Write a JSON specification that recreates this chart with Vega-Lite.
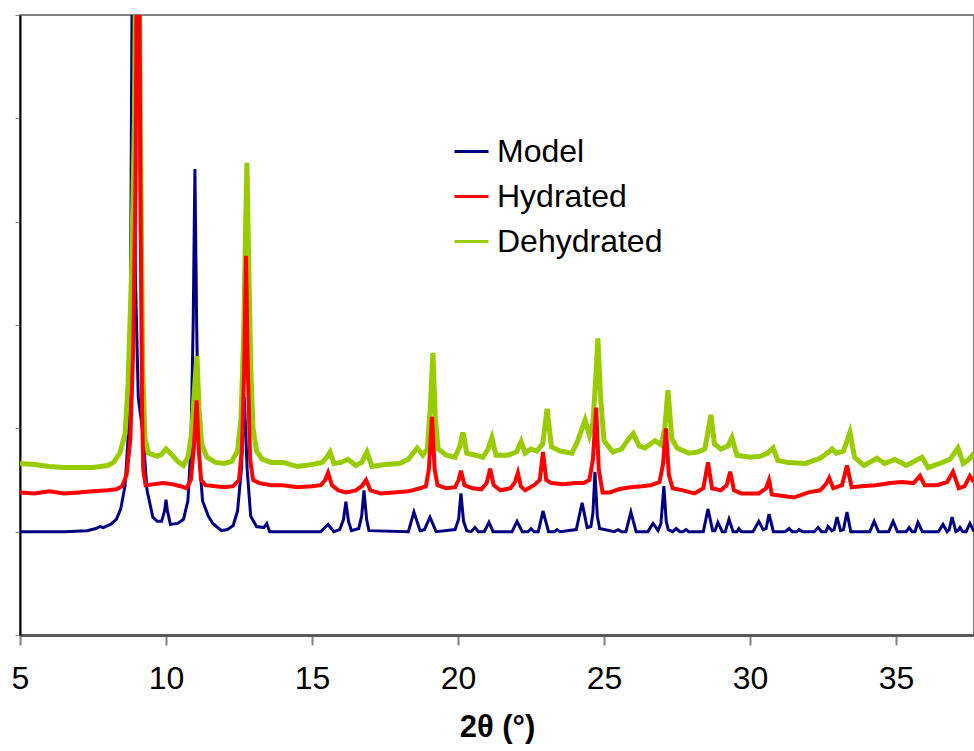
{
  "$schema": "https://vega.github.io/schema/vega-lite/v6.json",
  "width": 954,
  "height": 620,
  "autosize": {"type": "none"},
  "padding": {"left": 20, "top": 15, "right": 0, "bottom": 116},
  "background": "white",
  "config": {
    "view": {"stroke": "#808080", "strokeWidth": 2},
    "font": "Liberation Sans"
  },
  "datasets": {
    "model": [
      {"x":5.0,"y":1.0},{"x":6.5,"y":1.0},{"x":7.3,"y":1.01},{"x":7.6,"y":1.03},{"x":7.74,"y":1.05},{"x":7.85,"y":1.04},{"x":8.1,"y":1.07},{"x":8.3,"y":1.12},{"x":8.45,"y":1.22},{"x":8.6,"y":1.45},{"x":8.7,"y":1.9},{"x":8.78,"y":3.0},{"x":8.87,"y":8},{"x":8.95,"y":3.5},{"x":9.05,"y":2.3},{"x":9.21,"y":1.95},{"x":9.35,"y":1.4},{"x":9.55,"y":1.14},{"x":9.7,"y":1.1},{"x":9.85,"y":1.1},{"x":9.95,"y":1.2},{"x":10.0,"y":1.31},{"x":10.05,"y":1.2},{"x":10.15,"y":1.07},{"x":10.4,"y":1.08},{"x":10.6,"y":1.12},{"x":10.75,"y":1.3},{"x":10.85,"y":1.8},{"x":10.93,"y":3.0},{"x":10.99,"y":4.51},{"x":11.05,"y":3.0},{"x":11.12,"y":1.8},{"x":11.25,"y":1.3},{"x":11.45,"y":1.15},{"x":11.6,"y":1.08},{"x":11.9,"y":1.01},{"x":12.1,"y":1.02},{"x":12.3,"y":1.06},{"x":12.45,"y":1.2},{"x":12.58,"y":1.6},{"x":12.68,"y":2.3},{"x":12.78,"y":1.6},{"x":12.9,"y":1.15},{"x":13.1,"y":1.05},{"x":13.35,"y":1.04},{"x":13.45,"y":1.08},{"x":13.55,"y":1.0},{"x":15.3,"y":1.0},{"x":15.55,"y":1.07},{"x":15.75,"y":1.0},{"x":15.95,"y":1.02},{"x":16.08,"y":1.12},{"x":16.16,"y":1.29},{"x":16.25,"y":1.1},{"x":16.35,"y":1.01},{"x":16.6,"y":1.03},{"x":16.7,"y":1.15},{"x":16.78,"y":1.4},{"x":16.87,"y":1.12},{"x":16.95,"y":1.01},{"x":18.3,"y":1.0},{"x":18.49,"y":1.19},{"x":18.7,"y":1.01},{"x":18.85,"y":1.02},{"x":19.04,"y":1.14},{"x":19.25,"y":1.0},{"x":19.9,"y":1.02},{"x":20.02,"y":1.12},{"x":20.1,"y":1.37},{"x":20.19,"y":1.1},{"x":20.3,"y":1.01},{"x":20.45,"y":1.0},{"x":20.58,"y":1.04},{"x":20.7,"y":1.0},{"x":20.9,"y":1.0},{"x":21.06,"y":1.09},{"x":21.2,"y":1.0},{"x":21.85,"y":1.0},{"x":22.02,"y":1.1},{"x":22.2,"y":1.0},{"x":22.4,"y":1.0},{"x":22.5,"y":1.03},{"x":22.6,"y":1.0},{"x":22.75,"y":1.0},{"x":22.91,"y":1.2},{"x":23.1,"y":1.0},{"x":23.3,"y":1.0},{"x":23.39,"y":1.02},{"x":23.5,"y":1.0},{"x":24.05,"y":1.02},{"x":24.25,"y":1.28},{"x":24.42,"y":1.04},{"x":24.55,"y":1.05},{"x":24.62,"y":1.18},{"x":24.69,"y":1.58},{"x":24.77,"y":1.15},{"x":24.85,"y":1.03},{"x":25.35,"y":1.0},{"x":25.48,"y":1.02},{"x":25.6,"y":1.0},{"x":25.75,"y":1.0},{"x":25.92,"y":1.19},{"x":26.1,"y":1.0},{"x":26.5,"y":1.0},{"x":26.68,"y":1.08},{"x":26.85,"y":1.01},{"x":26.95,"y":1.08},{"x":27.05,"y":1.44},{"x":27.13,"y":1.1},{"x":27.2,"y":1.02},{"x":27.35,"y":1.0},{"x":27.47,"y":1.03},{"x":27.6,"y":1.0},{"x":27.7,"y":1.0},{"x":27.81,"y":1.02},{"x":27.9,"y":1.0},{"x":28.4,"y":1.0},{"x":28.56,"y":1.22},{"x":28.72,"y":1.01},{"x":28.8,"y":1.01},{"x":28.9,"y":1.09},{"x":29.05,"y":1.0},{"x":29.15,"y":1.0},{"x":29.28,"y":1.12},{"x":29.42,"y":1.0},{"x":29.55,"y":1.0},{"x":29.62,"y":1.03},{"x":29.7,"y":1.0},{"x":30.1,"y":1.0},{"x":30.3,"y":1.1},{"x":30.45,"y":1.02},{"x":30.55,"y":1.03},{"x":30.65,"y":1.17},{"x":30.8,"y":1.0},{"x":31.2,"y":1.0},{"x":31.34,"y":1.03},{"x":31.45,"y":1.0},{"x":31.6,"y":1.0},{"x":31.68,"y":1.02},{"x":31.8,"y":1.0},{"x":32.2,"y":1.0},{"x":32.33,"y":1.04},{"x":32.45,"y":1.0},{"x":32.6,"y":1.0},{"x":32.67,"y":1.05},{"x":32.8,"y":1.01},{"x":32.88,"y":1.02},{"x":32.98,"y":1.14},{"x":33.1,"y":1.01},{"x":33.2,"y":1.02},{"x":33.32,"y":1.19},{"x":33.45,"y":1.0},{"x":34.1,"y":1.0},{"x":34.25,"y":1.1},{"x":34.4,"y":1.0},{"x":34.75,"y":1.0},{"x":34.9,"y":1.1},{"x":35.05,"y":1.0},{"x":35.35,"y":1.0},{"x":35.45,"y":1.04},{"x":35.55,"y":1.0},{"x":35.65,"y":1.0},{"x":35.75,"y":1.09},{"x":35.9,"y":1.0},{"x":36.45,"y":1.0},{"x":36.61,"y":1.07},{"x":36.75,"y":1.0},{"x":36.82,"y":1.02},{"x":36.92,"y":1.14},{"x":37.05,"y":1.0},{"x":37.12,"y":1.01},{"x":37.19,"y":1.04},{"x":37.28,"y":1.0},{"x":37.4,"y":1.0},{"x":37.53,"y":1.08},{"x":37.67,"y":1.0}
    ],
    "hydrated": [
      {"x":5.0,"y":1.38},{"x":5.5,"y":1.37},{"x":6.0,"y":1.39},{"x":6.5,"y":1.37},{"x":7.0,"y":1.38},{"x":7.5,"y":1.39},{"x":8.0,"y":1.4},{"x":8.3,"y":1.41},{"x":8.5,"y":1.44},{"x":8.65,"y":1.55},{"x":8.78,"y":1.9},{"x":8.88,"y":2.8},{"x":8.96,"y":4.5},{"x":9.04,"y":9},{"x":9.12,"y":4.5},{"x":9.18,"y":2.2},{"x":9.22,"y":1.6},{"x":9.3,"y":1.45},{"x":9.6,"y":1.46},{"x":9.9,"y":1.47},{"x":10.2,"y":1.46},{"x":10.5,"y":1.44},{"x":10.7,"y":1.42},{"x":10.85,"y":1.5},{"x":10.95,"y":1.8},{"x":11.05,"y":2.27},{"x":11.12,"y":1.8},{"x":11.2,"y":1.5},{"x":11.35,"y":1.45},{"x":11.7,"y":1.44},{"x":12.0,"y":1.43},{"x":12.3,"y":1.44},{"x":12.5,"y":1.5},{"x":12.6,"y":1.8},{"x":12.68,"y":2.6},{"x":12.74,"y":3.67},{"x":12.8,"y":2.6},{"x":12.88,"y":1.7},{"x":12.98,"y":1.5},{"x":13.2,"y":1.47},{"x":13.6,"y":1.45},{"x":14.0,"y":1.45},{"x":14.5,"y":1.43},{"x":15.0,"y":1.44},{"x":15.3,"y":1.45},{"x":15.45,"y":1.5},{"x":15.55,"y":1.57},{"x":15.68,"y":1.45},{"x":15.9,"y":1.4},{"x":16.16,"y":1.38},{"x":16.5,"y":1.4},{"x":16.7,"y":1.44},{"x":16.85,"y":1.5},{"x":17.0,"y":1.4},{"x":17.35,"y":1.37},{"x":17.8,"y":1.38},{"x":18.3,"y":1.39},{"x":18.7,"y":1.42},{"x":18.9,"y":1.44},{"x":19.0,"y":1.6},{"x":19.11,"y":2.11},{"x":19.2,"y":1.6},{"x":19.3,"y":1.45},{"x":19.6,"y":1.42},{"x":19.9,"y":1.43},{"x":20.02,"y":1.5},{"x":20.1,"y":1.59},{"x":20.22,"y":1.45},{"x":20.5,"y":1.42},{"x":20.8,"y":1.41},{"x":20.98,"y":1.47},{"x":21.1,"y":1.61},{"x":21.22,"y":1.45},{"x":21.45,"y":1.4},{"x":21.8,"y":1.42},{"x":21.95,"y":1.48},{"x":22.05,"y":1.57},{"x":22.15,"y":1.44},{"x":22.3,"y":1.4},{"x":22.6,"y":1.45},{"x":22.8,"y":1.5},{"x":22.91,"y":1.77},{"x":23.02,"y":1.5},{"x":23.2,"y":1.47},{"x":23.6,"y":1.46},{"x":24.0,"y":1.47},{"x":24.3,"y":1.47},{"x":24.5,"y":1.5},{"x":24.62,"y":1.7},{"x":24.73,"y":2.2},{"x":24.82,"y":1.6},{"x":24.95,"y":1.38},{"x":25.2,"y":1.38},{"x":25.5,"y":1.41},{"x":25.9,"y":1.43},{"x":26.3,"y":1.44},{"x":26.6,"y":1.45},{"x":26.9,"y":1.48},{"x":27.02,"y":1.65},{"x":27.12,"y":2.0},{"x":27.22,"y":1.55},{"x":27.35,"y":1.42},{"x":27.7,"y":1.4},{"x":28.1,"y":1.37},{"x":28.4,"y":1.42},{"x":28.56,"y":1.67},{"x":28.7,"y":1.42},{"x":29.0,"y":1.4},{"x":29.2,"y":1.45},{"x":29.32,"y":1.58},{"x":29.45,"y":1.4},{"x":29.7,"y":1.37},{"x":30.3,"y":1.37},{"x":30.55,"y":1.42},{"x":30.65,"y":1.5},{"x":30.75,"y":1.36},{"x":31.0,"y":1.35},{"x":31.5,"y":1.33},{"x":32.0,"y":1.38},{"x":32.4,"y":1.4},{"x":32.6,"y":1.46},{"x":32.71,"y":1.52},{"x":32.85,"y":1.42},{"x":33.15,"y":1.45},{"x":33.32,"y":1.64},{"x":33.48,"y":1.43},{"x":33.8,"y":1.44},{"x":34.3,"y":1.45},{"x":34.8,"y":1.47},{"x":35.2,"y":1.48},{"x":35.6,"y":1.47},{"x":35.82,"y":1.54},{"x":35.98,"y":1.45},{"x":36.4,"y":1.45},{"x":36.75,"y":1.48},{"x":36.95,"y":1.58},{"x":37.15,"y":1.42},{"x":37.35,"y":1.44},{"x":37.53,"y":1.54},{"x":37.67,"y":1.48}
    ],
    "dehydrated": [
      {"x":5.0,"y":1.66},{"x":5.5,"y":1.65},{"x":6.0,"y":1.63},{"x":6.5,"y":1.62},{"x":7.0,"y":1.62},{"x":7.5,"y":1.62},{"x":8.0,"y":1.64},{"x":8.2,"y":1.67},{"x":8.42,"y":1.76},{"x":8.6,"y":1.95},{"x":8.7,"y":2.43},{"x":8.82,"y":3.5},{"x":8.92,"y":5.0},{"x":9.02,"y":9},{"x":9.12,"y":5.0},{"x":9.2,"y":2.6},{"x":9.28,"y":1.9},{"x":9.4,"y":1.76},{"x":9.7,"y":1.73},{"x":9.85,"y":1.75},{"x":10.0,"y":1.8},{"x":10.15,"y":1.76},{"x":10.4,"y":1.68},{"x":10.6,"y":1.64},{"x":10.75,"y":1.72},{"x":10.88,"y":1.95},{"x":10.98,"y":2.4},{"x":11.06,"y":2.7},{"x":11.13,"y":2.2},{"x":11.22,"y":1.85},{"x":11.4,"y":1.72},{"x":11.7,"y":1.67},{"x":12.0,"y":1.66},{"x":12.25,"y":1.68},{"x":12.45,"y":1.78},{"x":12.57,"y":2.1},{"x":12.66,"y":2.9},{"x":12.73,"y":4.0},{"x":12.77,"y":4.57},{"x":12.82,"y":3.8},{"x":12.9,"y":2.6},{"x":12.98,"y":2.0},{"x":13.1,"y":1.78},{"x":13.3,"y":1.7},{"x":13.6,"y":1.67},{"x":14.0,"y":1.67},{"x":14.5,"y":1.63},{"x":15.0,"y":1.65},{"x":15.35,"y":1.67},{"x":15.5,"y":1.72},{"x":15.62,"y":1.77},{"x":15.75,"y":1.66},{"x":16.0,"y":1.67},{"x":16.23,"y":1.7},{"x":16.5,"y":1.64},{"x":16.7,"y":1.67},{"x":16.88,"y":1.77},{"x":17.05,"y":1.63},{"x":17.5,"y":1.65},{"x":18.0,"y":1.66},{"x":18.3,"y":1.7},{"x":18.6,"y":1.81},{"x":18.8,"y":1.74},{"x":18.95,"y":1.8},{"x":19.05,"y":2.2},{"x":19.14,"y":2.73},{"x":19.22,"y":2.1},{"x":19.32,"y":1.8},{"x":19.6,"y":1.74},{"x":19.9,"y":1.72},{"x":20.05,"y":1.82},{"x":20.17,"y":1.96},{"x":20.3,"y":1.76},{"x":20.6,"y":1.74},{"x":20.85,"y":1.72},{"x":21.03,"y":1.8},{"x":21.16,"y":1.91},{"x":21.3,"y":1.74},{"x":21.7,"y":1.74},{"x":22.0,"y":1.77},{"x":22.16,"y":1.87},{"x":22.3,"y":1.76},{"x":22.5,"y":1.8},{"x":22.7,"y":1.78},{"x":22.9,"y":1.85},{"x":23.05,"y":2.19},{"x":23.2,"y":1.82},{"x":23.5,"y":1.78},{"x":23.9,"y":1.76},{"x":24.1,"y":1.88},{"x":24.35,"y":2.08},{"x":24.5,"y":1.93},{"x":24.62,"y":2.05},{"x":24.72,"y":2.5},{"x":24.79,"y":2.87},{"x":24.88,"y":2.3},{"x":25.0,"y":1.88},{"x":25.3,"y":1.77},{"x":25.6,"y":1.8},{"x":25.85,"y":1.9},{"x":26.0,"y":1.95},{"x":26.2,"y":1.83},{"x":26.4,"y":1.81},{"x":26.6,"y":1.85},{"x":26.75,"y":1.88},{"x":26.95,"y":1.84},{"x":27.08,"y":2.0},{"x":27.19,"y":2.37},{"x":27.32,"y":1.9},{"x":27.5,"y":1.81},{"x":27.9,"y":1.76},{"x":28.2,"y":1.77},{"x":28.45,"y":1.8},{"x":28.55,"y":1.95},{"x":28.66,"y":2.13},{"x":28.78,"y":1.85},{"x":29.0,"y":1.8},{"x":29.25,"y":1.83},{"x":29.38,"y":1.91},{"x":29.55,"y":1.74},{"x":30.0,"y":1.72},{"x":30.35,"y":1.73},{"x":30.6,"y":1.76},{"x":30.79,"y":1.81},{"x":30.95,"y":1.69},{"x":31.3,"y":1.67},{"x":31.9,"y":1.66},{"x":32.4,"y":1.71},{"x":32.65,"y":1.76},{"x":32.81,"y":1.8},{"x":32.95,"y":1.76},{"x":33.2,"y":1.78},{"x":33.42,"y":1.96},{"x":33.58,"y":1.72},{"x":33.9,"y":1.64},{"x":34.35,"y":1.71},{"x":34.6,"y":1.66},{"x":34.8,"y":1.68},{"x":34.95,"y":1.7},{"x":35.35,"y":1.64},{"x":35.89,"y":1.72},{"x":36.1,"y":1.62},{"x":36.5,"y":1.66},{"x":36.85,"y":1.7},{"x":37.12,"y":1.81},{"x":37.3,"y":1.66},{"x":37.5,"y":1.7},{"x":37.67,"y":1.76}
    ]
  },
  "encoding": {
    "x": {
      "field": "x", "type": "quantitative",
      "scale": {"domain": [5, 37.67], "nice": false, "zero": false},
      "axis": {
        "values": [5, 10, 15, 20, 25, 30, 35],
        "title": "2θ (°)",
        "titleFont": "Liberation Sans", "titleFontSize": 31, "titleFontWeight": "bold", "titleColor": "black", "titlePadding": 18,
        "labelFont": "Liberation Sans", "labelFontSize": 32, "labelColor": "black", "labelPadding": 18,
        "labelFlush": false, "labelOverlap": false, "labelBound": false,
        "tickColor": "#808080", "tickSize": 10, "tickWidth": 2,
        "domainColor": "#595959", "domainWidth": 3, "grid": false
      }
    },
    "y": {
      "field": "y", "type": "quantitative",
      "scale": {"domain": [0, 6], "nice": false, "zero": false},
      "axis": {
        "values": [0, 1, 2, 3, 4, 5, 6], "labels": false, "title": null, "grid": false,
        "tickColor": "#808080", "tickSize": 5, "tickWidth": 1,
        "domainColor": "black", "domainWidth": 2
      }
    }
  },
  "layer": [
    {
      "data": {"name": "model"},
      "mark": {"type": "line", "clip": true, "strokeWidth": 3},
      "encoding": {
        "color": {
          "datum": "Model",
          "scale": {"domain": ["Model", "Hydrated", "Dehydrated"], "range": ["#000080", "#FF0000", "#99CC00"]},
          "legend": {
            "title": null, "orient": "none", "legendX": 433, "legendY": 118,
            "symbolType": "stroke", "symbolSize": 1156, "symbolStrokeWidth": 3,
            "labelFont": "Liberation Sans", "labelFontSize": 32, "labelColor": "black", "labelLimit": 400,
            "labelOffset": 7, "rowPadding": 10, "padding": 0
          }
        }
      }
    },
    {
      "data": {"name": "dehydrated"},
      "mark": {"type": "line", "clip": true, "strokeWidth": 5},
      "encoding": {"color": {"datum": "Dehydrated"}}
    },
    {
      "data": {"name": "hydrated"},
      "mark": {"type": "line", "clip": true, "strokeWidth": 4},
      "encoding": {"color": {"datum": "Hydrated"}}
    }
  ]
}
